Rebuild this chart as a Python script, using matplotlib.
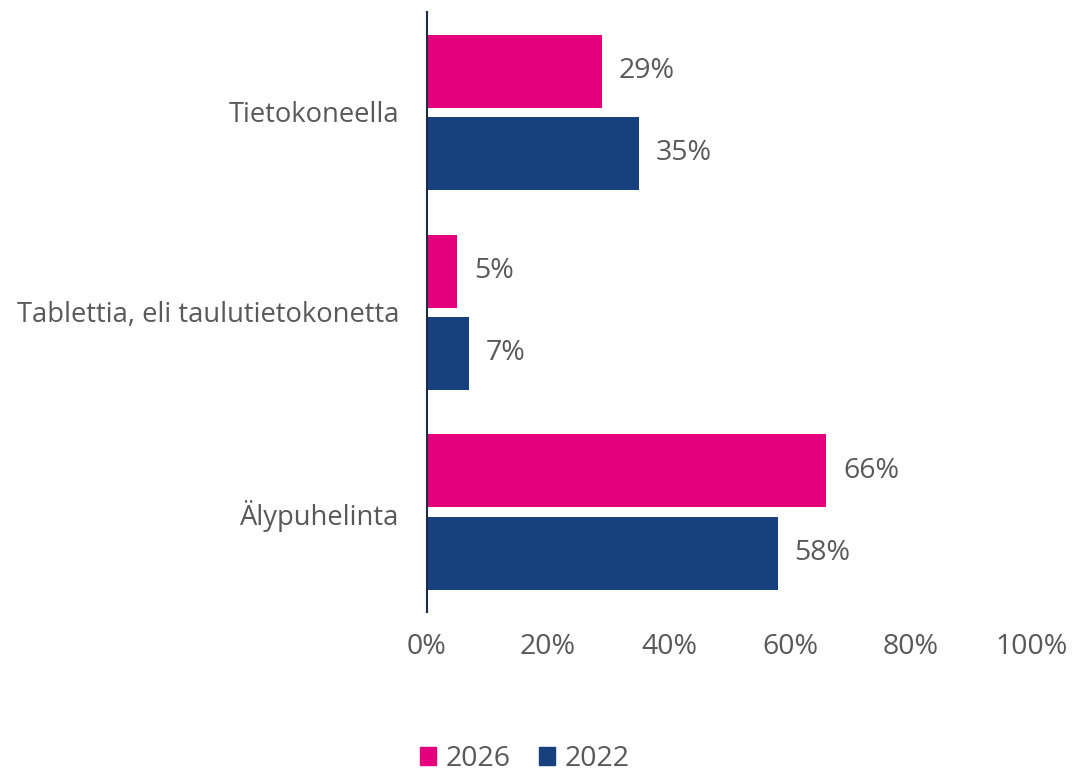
import matplotlib
matplotlib.use("Agg")
import matplotlib.pyplot as plt
from matplotlib.patches import Patch

categories = ["Tietokoneella", "Tablettia, eli taulutietokonetta", "Älypuhelinta"]
series_names = ["2026", "2022"]
values_2026 = [29, 5, 66]
values_2022 = [35, 7, 58]
x_ticks = [0, 20, 40, 60, 80, 100]
x_tick_labels = ["0%", "20%", "40%", "60%", "80%", "100%"]

PINK = "#E4007C"
BLUE = "#17417E"
TEXT = "#595959"

plt.rcParams["font.family"] = ["Open Sans", "DejaVu Sans"]

W, H = 1072, 771
fig = plt.figure(figsize=(W / 100, H / 100), dpi=100)
ax = fig.add_axes([427 / W, (H - 612) / H, (1032 - 427) / W, 600 / H])

bar_h = 0.365
offset = 0.205
ypos = list(range(len(categories)))
ax.barh([y - offset for y in ypos], values_2026, height=bar_h, color=PINK)
ax.barh([y + offset for y in ypos], values_2022, height=bar_h, color=BLUE)

NUM_FS = 20.5
CAT_FS = 19.7
for y, v in zip(ypos, values_2026):
    ax.annotate(f"{v}%", (v, y - offset), xytext=(12, 0), textcoords="offset points",
                va="center", ha="left", fontsize=NUM_FS, color=TEXT)
for y, v in zip(ypos, values_2022):
    ax.annotate(f"{v}%", (v, y + offset), xytext=(12, 0), textcoords="offset points",
                va="center", ha="left", fontsize=NUM_FS, color=TEXT)

ax.set_xlim(0, 100)
ax.set_ylim(len(categories) - 0.5, -0.5)
ax.set_yticks(ypos)
ax.set_yticklabels(categories, fontsize=CAT_FS, color=TEXT)
ax.set_xticks(x_ticks)
ax.set_xticklabels(x_tick_labels, fontsize=NUM_FS, color=TEXT)
ax.tick_params(axis="both", length=0)
ax.tick_params(axis="y", pad=20)
ax.tick_params(axis="x", pad=15)

for side in ["top", "right", "bottom"]:
    ax.spines[side].set_visible(False)
ax.spines["left"].set_color("#1F2A44")
ax.spines["left"].set_linewidth(1.5)

handles = [Patch(color=PINK, label=series_names[0]), Patch(color=BLUE, label=series_names[1])]
leg = fig.legend(handles=handles, loc="center", bbox_to_anchor=(525 / W, (H - 759) / H),
                 ncol=2, frameon=False, handlelength=0.55, handleheight=0.55,
                 handletextpad=0.35, columnspacing=1.0, borderpad=0.1,
                 prop={"size": NUM_FS})
for t in leg.get_texts():
    t.set_color(TEXT)

fig.savefig("out.png", dpi=100)
